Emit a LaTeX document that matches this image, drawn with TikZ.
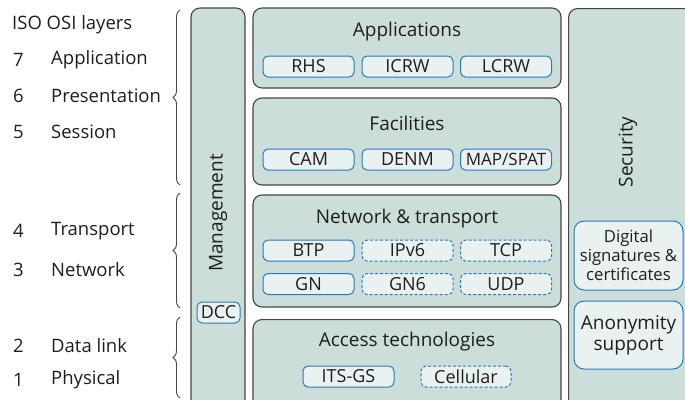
\documentclass[tikz,border=0pt]{standalone}
\usepackage{fontspec}
\setmainfont{Open Sans}
\usetikzlibrary{decorations.pathreplacing}
\definecolor{layerfill}{HTML}{CCDED9}
\definecolor{layerdraw}{HTML}{454545}
\definecolor{subfill}{HTML}{EAF1F1}
\definecolor{subdraw}{HTML}{2878C0}
\definecolor{txt}{HTML}{1E1E1E}
\tikzset{
  layer/.style={draw=layerdraw, fill=layerfill, line width=1.1pt, rounded corners=9pt, inner sep=0pt},
  sub/.style={draw=subdraw, fill=subfill, line width=1pt, rounded corners=5pt, inner sep=0pt, text=txt, font=\fontsize{18}{19}\selectfont},
  subd/.style={sub, dashed, dash pattern=on 3pt off 2pt},
  title/.style={text=txt, font=\fontsize{19}{20}\selectfont, inner sep=0pt},
  osi/.style={text=txt, font=\fontsize{18.5}{20}\selectfont, inner sep=0pt, anchor=west},
  br/.style={draw=layerdraw, line width=0.9pt, decorate, decoration={brace, amplitude=7pt}},
}
\begin{document}
\begin{tikzpicture}[x=1pt, y=-1pt]
\clip (0,0) rectangle (685,399);
\fill[white] (0,0) rectangle (685,399);
% columns
\node[layer, minimum width=54pt, minimum height=422pt] (mgmt) at (218,219) {};
\node[layer, minimum width=160pt, minimum height=422pt, anchor=north west] (sec) at (568,8) {};
\node[title, rotate=90] (mgmtl) at (218,213) {Management};
\node[title, rotate=90] (secl) at (628,152) {Security};
% layers
\node[layer, minimum width=308pt, minimum height=80pt] (app) at (407,48) {};
\node[layer, minimum width=308pt, minimum height=87pt] (fac) at (407,141.5) {};
\node[layer, minimum width=308pt, minimum height=112pt] (net) at (407,251) {};
\node[layer, minimum width=308pt, minimum height=120pt, anchor=north] (acc) at (407,319) {};
\node[title] (appl) at (407,32) {Applications};
\node[title] (facl) at (407,123) {Facilities};
\node[title] (netl) at (407,219) {Network \& transport};
\node[title] (accl) at (407,342) {Access technologies};
% sub boxes
\node[sub, minimum width=91pt, minimum height=21pt] (rhs) at (308.5,66.5) {RHS};
\node[sub, minimum width=91pt, minimum height=21pt] (icrw) at (407.5,66.5) {ICRW};
\node[sub, minimum width=91pt, minimum height=21pt] (lcrw) at (506,66.5) {LCRW};
\node[sub, minimum width=91pt, minimum height=21pt] (cam) at (308.5,159.5) {CAM};
\node[sub, minimum width=91pt, minimum height=21pt] (denm) at (407.5,159.5) {DENM};
\node[sub, minimum width=91pt, minimum height=21pt, font=\fontsize{17}{18}\selectfont] (map) at (506,159.5) {MAP/SPAT};
\node[sub, minimum width=91pt, minimum height=21pt] (btp) at (308.5,250.5) {BTP};
\node[subd, minimum width=91pt, minimum height=21pt] (ipv6) at (407.5,250.5) {IPv6};
\node[subd, minimum width=91pt, minimum height=21pt] (tcp) at (506,250.5) {TCP};
\node[sub, minimum width=91pt, minimum height=21pt] (gn) at (308.5,284) {GN};
\node[subd, minimum width=91pt, minimum height=21pt] (gn6) at (407.5,284) {GN6};
\node[subd, minimum width=91pt, minimum height=21pt] (udp) at (506,284) {UDP};
\node[sub, minimum width=91pt, minimum height=21pt] (its) at (348.5,376.5) {ITS-GS};
\node[subd, minimum width=90pt, minimum height=21pt] (cell) at (466,376.5) {Cellular};
\node[sub, minimum width=43pt, minimum height=21pt] (dcc) at (218.5,312.5) {DCC};
\node[sub, minimum width=109pt, minimum height=69pt, rounded corners=10pt, align=center, font=\fontsize{16.7}{19}\selectfont] (dig) at (628.5,255.5) {Digital\\signatures \&\\certificates};
\node[sub, minimum width=109pt, minimum height=68pt, rounded corners=10pt, align=center, font=\fontsize{19}{21}\selectfont] (anon) at (628.5,335) {Anonymity\\support};
% OSI labels
\node[osi] (iso) at (12,25) {ISO OSI layers};
\node[osi] (n7) at (13,60) {7};
\node[osi] (l7) at (51,60) {Application};
\node[osi] (n6) at (13,96) {6};
\node[osi] (l6) at (51,96) {Presentation};
\node[osi] (n5) at (13,132) {5};
\node[osi] (l5) at (51,132) {Session};
\node[osi] (n4) at (13,231) {4};
\node[osi] (l4) at (51,231) {Transport};
\node[osi] (n3) at (13,270) {3};
\node[osi] (l3) at (51,270) {Network};
\node[osi] (n2) at (13,346) {2};
\node[osi] (l2) at (51,346) {Data link};
\node[osi] (n1) at (13,380) {1};
\node[osi] (l1) at (51,380) {Physical};
% braces
\coordinate (b1t) at (180,10); \coordinate (b1b) at (180,185);
\coordinate (b2t) at (180,193); \coordinate (b2b) at (180,308);
\coordinate (b3t) at (180,317); \coordinate (b3b) at (180,398);
\draw[br] (b1b) -- (b1t);
\draw[br] (b2b) -- (b2t);
\draw[br] (b3b) -- (b3t);
\end{tikzpicture}
\end{document}
